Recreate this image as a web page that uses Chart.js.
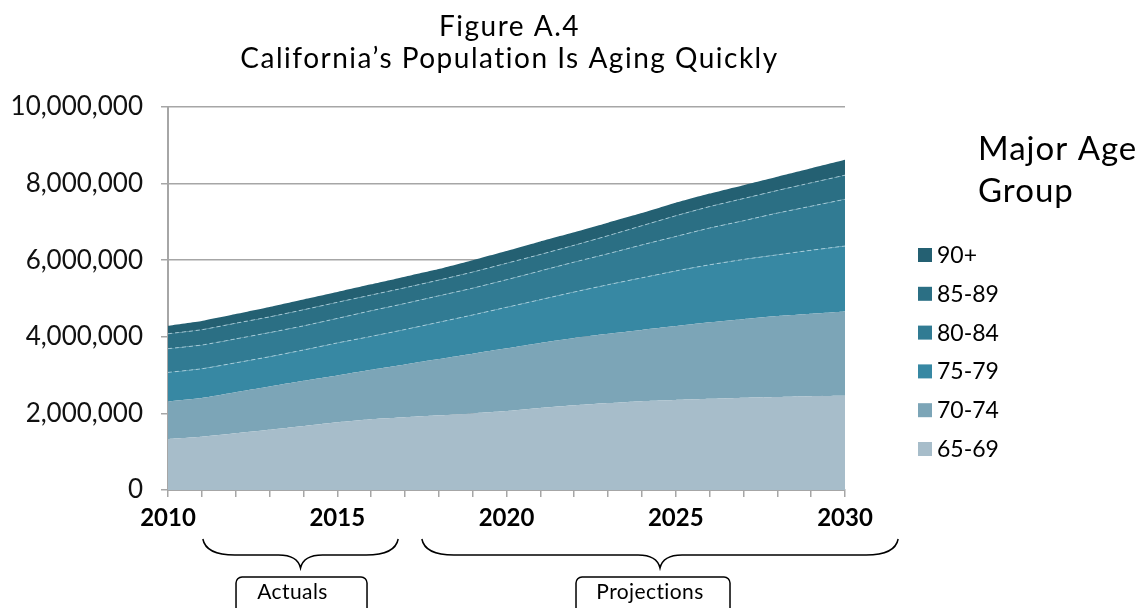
<!DOCTYPE html>
<html>
<head>
<meta charset="utf-8">
<script src="https://cdn.jsdelivr.net/npm/chart.js@4/dist/chart.umd.min.js"></script>
<style>
  html, body { margin: 0; padding: 0; background: #fff; }
  #wrap { position: relative; width: 1139px; height: 608px; }
</style>
</head>
<body>
<div id="wrap"><canvas id="agingChart" width="1139" height="608"></canvas></div>
<script>
// Population 65+ by age group, 2010-2017 actuals, 2018-2030 projections
const years = [2010, 2011, 2012, 2013, 2014, 2015, 2016, 2017, 2018, 2019, 2020,
               2021, 2022, 2023, 2024, 2025, 2026, 2027, 2028, 2029, 2030];

const age65to69 = [1330000, 1390000, 1480000, 1570000, 1670000, 1770000, 1850000, 1900000, 1950000, 2000000, 2060000,
                   2140000, 2210000, 2270000, 2320000, 2350000, 2380000, 2410000, 2430000, 2450000, 2460000];
const age70to74 = [980000, 1010000, 1070000, 1130000, 1180000, 1220000, 1290000, 1380000, 1470000, 1560000, 1640000,
                   1700000, 1760000, 1810000, 1860000, 1930000, 2000000, 2050000, 2110000, 2150000, 2200000];
const age75to79 = [760000, 765000, 770000, 780000, 805000, 850000, 870000, 910000, 960000, 1010000, 1070000,
                   1130000, 1200000, 1280000, 1360000, 1440000, 1500000, 1560000, 1600000, 1660000, 1710000];
const age80to84 = [620000, 620000, 625000, 630000, 630000, 640000, 670000, 680000, 690000, 700000, 720000,
                   750000, 780000, 810000, 860000, 900000, 960000, 1010000, 1090000, 1150000, 1220000];
const age85to89 = [390000, 400000, 410000, 410000, 420000, 420000, 410000, 410000, 410000, 420000, 430000,
                   430000, 440000, 470000, 500000, 540000, 560000, 580000, 590000, 610000, 630000];
const age90plus = [210000, 230000, 240000, 260000, 270000, 270000, 280000, 290000, 290000, 310000, 320000,
                   340000, 340000, 340000, 330000, 340000, 340000, 350000, 360000, 380000, 400000];

const groupLabels = ['65-69', '70-74', '75-79', '80-84', '85-89', '90+'];
const groupColors = ['#a7bdca', '#7ca5b7', '#3788a3', '#317b93', '#2b6f84', '#246072'];
const yTicks = [0, 2000000, 4000000, 6000000, 8000000, 10000000];

const titleLines = ['Figure A.4', 'California\u2019s Population Is Aging Quickly'];
const legendTitle = ['Major Age', 'Group'];
const periods = [
    { label: 'Actuals', from: 2011.03, to: 2016.8, boxWidth: 131, boxShift: 1, textShift: -9 },
    { label: 'Projections', from: 2017.5, to: 2031.57, boxWidth: 154, boxShift: -7, textShift: -3 }
];

const AXIS_GREY = '#a6a6a6';
const FONT = 'Lato, "Noto Sans", sans-serif';

function makeDataset(i, values) {
    // the 75-89 bands get a faint dashed edge on top
    const dashed = i >= 2 && i <= 4;
    return {
        label: groupLabels[i],
        data: values,
        backgroundColor: groupColors[i],
        borderColor: dashed ? 'rgba(190, 220, 232, 0.75)' : 'rgba(0,0,0,0)',
        borderWidth: dashed ? 1 : 0,
        borderDash: dashed ? [4, 3] : [],
        fill: i === 0 ? 'origin' : '-1',
        pointRadius: 0,
        pointHoverRadius: 0,
        tension: 0.15
    };
}

// Title, legend, and the actuals/projections braces are drawn on the canvas
const decorations = {
    id: 'decorations',
    afterDraw(chart) {
        const ctx = chart.ctx;
        const area = chart.chartArea;
        const xScale = chart.scales.x;
        ctx.save();

        // two-line title centred over the plot area
        ctx.fillStyle = '#000';
        ctx.textAlign = 'center';
        ctx.textBaseline = 'alphabetic';
        ctx.font = '28px ' + FONT;
        ctx.letterSpacing = '1.5px';
        const cx = (area.left + area.right) / 2 + 3;
        ctx.fillText(titleLines[0], cx, 36);
        ctx.fillText(titleLines[1], cx, 68);

        // legend, highest age group first
        ctx.textAlign = 'left';
        ctx.font = '33px ' + FONT;
        ctx.letterSpacing = '1px';
        ctx.fillText(legendTitle[0], 978, 160);
        ctx.fillText(legendTitle[1], 978, 202);
        ctx.font = '23px ' + FONT;
        ctx.letterSpacing = '0px';
        const sets = chart.data.datasets;
        for (let k = 0; k < sets.length; k++) {
            const ds = sets[sets.length - 1 - k];
            const top = 248 + k * 38.8;
            ctx.fillStyle = ds.backgroundColor;
            ctx.fillRect(918, top, 14, 14);
            ctx.fillStyle = '#000';
            ctx.fillText(ds.label, 937, top + 15);
        }

        // curly braces and labelled boxes under the x axis
        ctx.strokeStyle = '#000';
        ctx.lineWidth = 1.5;
        periods.forEach(p => {
            const x0 = xScale.getPixelForValue(p.from);
            const x1 = xScale.getPixelForValue(p.to);
            const tip = (x0 + x1) / 2;
            const yEnd = 539, yMid = 555, yTip = 568;
            ctx.beginPath();
            ctx.moveTo(x0, yEnd);
            ctx.quadraticCurveTo(x0 + 3, yMid, x0 + 32, yMid);
            ctx.lineTo(tip - 22, yMid);
            ctx.quadraticCurveTo(tip - 3, yMid, tip, yTip);
            ctx.quadraticCurveTo(tip + 3, yMid, tip + 22, yMid);
            ctx.lineTo(x1 - 32, yMid);
            ctx.quadraticCurveTo(x1 - 3, yMid, x1, yEnd);
            ctx.stroke();

            const bx = tip + p.boxShift - p.boxWidth / 2;
            ctx.beginPath();
            ctx.roundRect(bx, 577, p.boxWidth, 40, 6);
            ctx.stroke();
            ctx.fillStyle = '#000';
            ctx.font = '21px ' + FONT;
            ctx.letterSpacing = '0.4px';
            ctx.textAlign = 'center';
            ctx.fillText(p.label, bx + p.boxWidth / 2 + p.textShift, 599);
        });
        ctx.restore();
    }
};

const chart = new Chart(document.getElementById('agingChart'), {
    type: 'line',
    data: {
        labels: years,
        datasets: [age65to69, age70to74, age75to79, age80to84, age85to89, age90plus]
            .map((values, i) => makeDataset(i, values))
    },
    options: {
        responsive: false,
        animation: false,
        events: [],
        layout: { padding: { top: 107, right: 294, bottom: 0, left: 0 } },
        plugins: {
            legend: { display: false },
            title: { display: false },
            tooltip: { enabled: false }
        },
        scales: {
            x: {
                type: 'linear',
                min: 2010,
                max: 2030,
                afterFit: scale => { scale.height = 118; },
                afterBuildTicks: scale => { scale.ticks = years.map(v => ({ value: v })); },
                ticks: {
                    autoSkip: false,
                    maxRotation: 0,
                    padding: 7,
                    color: '#000',
                    font: { family: FONT, size: 24, weight: 'bold' },
                    callback: v => (v % 5 === 0 ? String(v) : '')
                },
                grid: { drawOnChartArea: false, drawTicks: true, tickLength: 7, color: AXIS_GREY, lineWidth: 1.5 },
                border: { color: AXIS_GREY, width: 2 }
            },
            y: {
                stacked: true,
                min: 0,
                max: 10000000,
                afterFit: scale => { scale.width = 168; },
                afterBuildTicks: scale => { scale.ticks = yTicks.map(v => ({ value: v })); },
                ticks: {
                    padding: 18,
                    color: '#111',
                    font: { family: FONT, size: 26 },
                    callback: v => v.toLocaleString('en-US')
                },
                grid: { color: AXIS_GREY, lineWidth: 1.5, tickLength: 7 },
                border: { color: AXIS_GREY, width: 2 }
            }
        }
    },
    plugins: [decorations]
});
</script>
</body>
</html>
